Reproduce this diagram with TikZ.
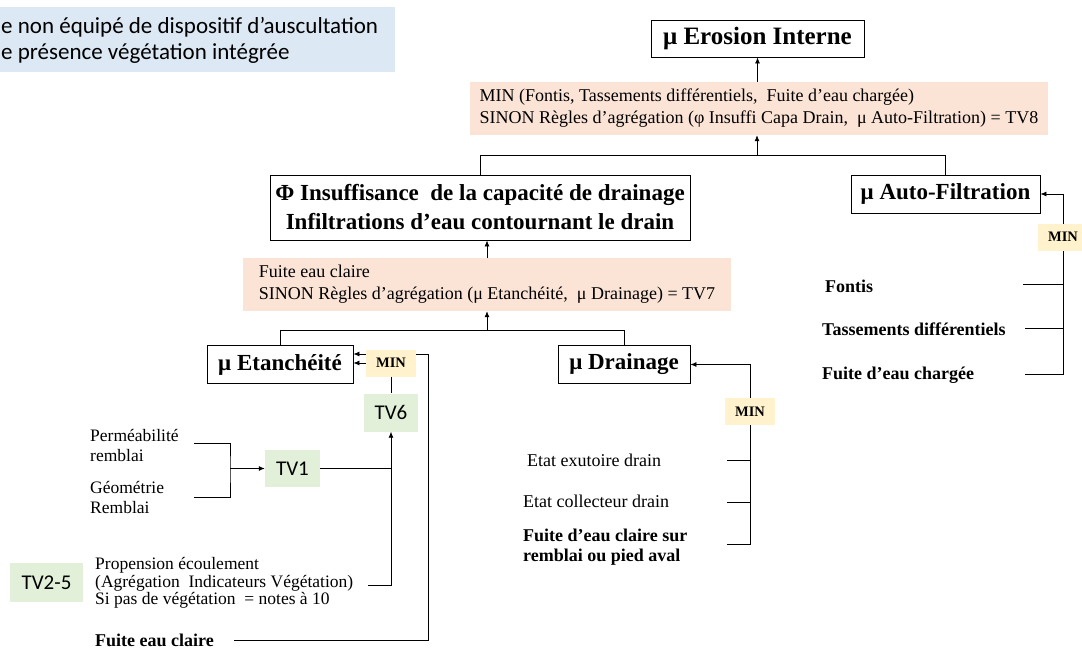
\documentclass[tikz,border=0pt]{standalone}
\usepackage{fontspec}
\setmainfont{Liberation Serif}
\newfontfamily\calibri{Carlito}
\usetikzlibrary{arrows.meta}
\definecolor{bluebg}{HTML}{DCE8F4}
\definecolor{peach}{HTML}{FBE4D6}
\definecolor{minyel}{HTML}{FFF2CC}
\definecolor{tvgreen}{HTML}{E2F0D9}
\begin{document}
\begin{tikzpicture}[x=1pt,y=-1pt,
  title/.style={draw, line width=0.8pt, fill=white, font=\fontsize{23}{29}\selectfont\bfseries, align=center, inner sep=0pt},
  peachbox/.style={fill=peach, align=left, font=\fontsize{18}{22}\selectfont, inner sep=0pt},
  minbox/.style={fill=minyel, font=\fontsize{14.5}{16}\selectfont\bfseries, minimum width=50pt, minimum height=27pt, inner sep=0pt},
  tvbox/.style={fill=tvgreen, font=\calibri\fontsize{21}{24}\selectfont, inner sep=0pt},
  lbl/.style={anchor=west, align=left, inner sep=0pt, font=\fontsize{17.5}{20}\selectfont},
  blbl/.style={anchor=west, align=left, inner sep=0pt, font=\fontsize{18}{20}\selectfont\bfseries},
  link/.style={line width=0.8pt},
  arr/.style={line width=0.8pt, -{Latex[length=6pt,width=5pt]}}]
\useasboundingbox (0,0) rectangle (1082,651);
\clip (0,0) rectangle (1082,651);

% note box (cut at the left edge)
\fill[bluebg] (-5,7) rectangle (395,72);
\node[anchor=west, align=left, inner sep=0pt, font=\calibri\fontsize{23}{26}\selectfont] (note) at (1,40)
  {e non équipé de dispositif d’auscultation\\e présence végétation intégrée};

% top
\node[title, minimum width=213pt, minimum height=37pt, font=\fontsize{25}{29}\selectfont\bfseries] (ero) at (757.5,38.5) {μ Erosion Interne};
\node[peachbox, minimum width=578pt, minimum height=53pt] (p1) at (759,108.5)
  {MIN (Fontis, Tassements différentiels, \ Fuite d’eau chargée)\\SINON Règles d’agrégation (φ Insuffi Capa Drain, \ μ Auto-Filtration) = TV8};
\draw[arr] (ero.south |- p1.north) -- (ero.south);
\coordinate (j1) at (757,155);
\draw[arr] (j1) -- (j1 |- p1.south);

\node[title, minimum width=420pt, minimum height=65pt] (ins) at (480,207.5)
  {Φ Insuffisance \ de la capacité de drainage\\Infiltrations d’eau contournant le drain};
\node[title, minimum width=189pt, minimum height=38pt] (af) at (945.5,194) {μ Auto-Filtration};
\draw[link] (ins.north) -- (ins.north |- j1) -- (af.north |- j1) -- (af.north);

\node[peachbox, minimum width=488pt, minimum height=53pt] (p2) at (487,284.5)
  {Fuite eau claire\\SINON Règles d’agrégation (μ Etanchéité, \ μ Drainage) = TV7};
\draw[arr] (p2.north) -- (p2.north |- ins.south);
\coordinate (j2) at (487,330);
\draw[arr] (j2) -- (p2.south);

\node[title, minimum width=146pt, minimum height=38pt] (et) at (280,364.5) {μ Etanchéité};
\node[title, minimum width=132pt, minimum height=38pt] (dr) at (624,364.5) {μ Drainage};
\draw[link] (et.north) -- (et.north |- j2) -- (dr.north |- j2) -- (dr.north);

% Etancheite branch
\node[blbl] (fec) at (95,640) {Fuite eau claire};
\coordinate (c1) at (428,354);
\draw[arr] ([xshift=20pt]fec.east) -| (c1) -- (et.east |- c1);
\node[minbox] (m1) at (391,363) {MIN};
\draw[arr] (m1.west) -- (et.east |- m1.west);
\node[tvbox, minimum width=54pt, minimum height=38pt] (tv6) at (391,412.5) {TV6};
\draw[link] (m1.south) -- (tv6.north);

\node[tvbox, minimum width=55pt, minimum height=37pt] (tv1) at (292.5,468.5) {TV1};
\node[lbl] (perm) at (90,445) {Perméabilité\\remblai};
\node[lbl] (geo) at (90,497.5) {Géométrie\\Remblai};
\coordinate (bt) at (194,443);
\coordinate (bb) at (194,497);
\coordinate (bm) at (230,468.5);
\draw[link] (bt) -| (bm) |- (bb);
\draw[arr] (bm) -- (tv1.west);

\node[tvbox, minimum width=73pt, minimum height=39pt] (tv25) at (46.5,582.5) {TV2-5};
\node[lbl, font=\fontsize{17.5}{17.5}\selectfont] (prop) at (95,583)
  {Propension écoulement\\(Agrégation \ Indicateurs Végétation)\\Si pas de végétation \ = notes à 10};
\coordinate (pe) at (368,585);
\draw[arr] (pe) -| (tv6.south);
\draw[link] (tv1.east) -- (tv1.east -| tv6.south);

% Drainage branch
\node[lbl, font=\fontsize{18}{20}\selectfont] (ee) at (527,460) {Etat exutoire drain};
\node[lbl, font=\fontsize{18}{20}\selectfont] (ec) at (523,501) {Etat collecteur drain};
\node[blbl] (fd) at (523,547) {Fuite d’eau claire sur\\remblai ou pied aval};
\coordinate (d1) at (727,460);
\coordinate (d2) at (727,502);
\coordinate (d3) at (727,544);
\coordinate (dv) at (750,544);
\draw[arr] (d3) -- (dv) |- (dr.east);
\draw[link] (d1) -- (d1 -| dv);
\draw[link] (d2) -- (d2 -| dv);
\node[minbox] (m2) at (750,411.5) {MIN};

% Auto-Filtration branch
\node[blbl] (fo) at (825,286) {Fontis};
\node[blbl] (ta) at (822,329) {Tassements différentiels};
\node[blbl] (fc) at (822,375) {Fuite d’eau chargée};
\coordinate (a1) at (1023,284);
\coordinate (a2) at (1025,328);
\coordinate (a3) at (1025,374);
\coordinate (av) at (1063,374);
\draw[arr] (a3) -- (av) |- (af.east);
\draw[link] (a1) -- (a1 -| av);
\draw[link] (a2) -- (a2 -| av);
\node[minbox] (m3) at (1063,237) {MIN};
\end{tikzpicture}
\end{document}
